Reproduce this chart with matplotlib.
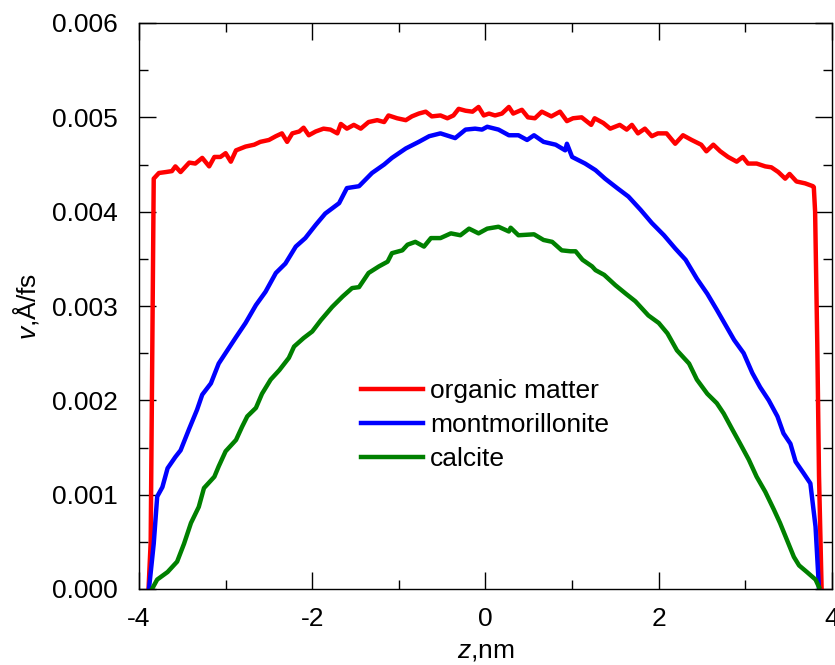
import matplotlib
matplotlib.use('Agg')
import matplotlib.pyplot as plt
from matplotlib.ticker import MultipleLocator, FormatStrFormatter

plt.rcParams['font.family'] = ['Liberation Sans', 'DejaVu Sans']
plt.rcParams['mathtext.fontset'] = 'custom'
plt.rcParams['mathtext.it'] = 'Liberation Sans:italic'
plt.rcParams['mathtext.rm'] = 'Liberation Sans'
plt.rcParams['axes.unicode_minus'] = False

# organic matter (red)
z_org = [-3.89, -3.865, -3.845, -3.83, -3.77, -3.69, -3.62, -3.58, -3.52, -3.42, -3.35, -3.27,
         -3.19, -3.13, -3.06, -3.0, -2.94, -2.88, -2.77, -2.67, -2.60, -2.5, -2.42, -2.35,
         -2.29, -2.23, -2.15, -2.10, -2.04, -1.96, -1.87, -1.79, -1.71, -1.67, -1.60, -1.52,
         -1.44, -1.35, -1.25, -1.17, -1.12, -1.02, -0.92, -0.85, -0.77, -0.69, -0.62, -0.52,
         -0.44, -0.37, -0.31, -0.23, -0.15, -0.08, -0.02, 0.04, 0.11, 0.19, 0.27, 0.32,
         0.42, 0.49, 0.57, 0.65, 0.76, 0.86, 0.94, 1.01, 1.11, 1.22, 1.26, 1.36, 1.44,
         1.55, 1.63, 1.69, 1.76, 1.84, 1.92, 1.99, 2.09, 2.19, 2.28, 2.38, 2.49, 2.55,
         2.63, 2.71, 2.80, 2.90, 2.97, 3.03, 3.13, 3.23, 3.30, 3.38, 3.46, 3.51, 3.59,
         3.69, 3.78, 3.79, 3.805, 3.83, 3.85, 3.88]
v_org = [0.0, 0.0005, 0.0027, 0.00435, 0.00441, 0.00442, 0.00443, 0.00448, 0.00442, 0.00452,
         0.00451, 0.00457, 0.00448, 0.00458, 0.00458, 0.00462, 0.00453, 0.00465, 0.00469,
         0.00471, 0.00474, 0.00476, 0.0048, 0.00483, 0.00474, 0.00483, 0.00485, 0.00489,
         0.00481, 0.00485, 0.00488, 0.00487, 0.00483, 0.00493, 0.00488, 0.00492, 0.00488,
         0.00495, 0.00497, 0.00495, 0.00502, 0.00499, 0.00497, 0.00501, 0.00504, 0.00506,
         0.00501, 0.00502, 0.00499, 0.00502, 0.00509, 0.00507, 0.00506, 0.00511, 0.00502,
         0.00504, 0.00502, 0.00504, 0.00511, 0.00504, 0.00508, 0.005, 0.00499, 0.00506,
         0.00501, 0.00506, 0.00496, 0.00499, 0.005, 0.00492, 0.00499, 0.00494, 0.00488,
         0.00492, 0.00487, 0.00492, 0.00483, 0.00488, 0.0048, 0.00483, 0.00483, 0.00472,
         0.00481, 0.00476, 0.00471, 0.00464, 0.00471, 0.00464, 0.00458, 0.00453, 0.00458,
         0.00451, 0.00451, 0.00448, 0.00447, 0.00442, 0.00435, 0.0044, 0.00432, 0.0043,
         0.00427, 0.00426, 0.004, 0.0026, 0.0012, 0.0]

# montmorillonite (blue)
z_mont = [-3.885, -3.83, -3.79, -3.73, -3.67, -3.58, -3.52, -3.42, -3.33, -3.27, -3.17, -3.08,
          -2.98, -2.88, -2.77, -2.65, -2.54, -2.42, -2.31, -2.19, -2.08, -1.96, -1.85, -1.69,
          -1.60, -1.46, -1.31, -1.17, -1.08, -0.92, -0.77, -0.65, -0.52, -0.35, -0.23, -0.12,
          -0.04, 0.02, 0.15, 0.27, 0.38, 0.48, 0.56, 0.67, 0.81, 0.92, 0.94, 1.0, 1.15, 1.27,
          1.38, 1.52, 1.65, 1.79, 1.92, 2.06, 2.19, 2.31, 2.44, 2.56, 2.67, 2.77, 2.87, 2.98,
          3.08, 3.17, 3.27, 3.37, 3.44, 3.52, 3.58, 3.67, 3.75, 3.81, 3.85]
v_mont = [0.0, 0.00048, 0.00098, 0.00108, 0.00128, 0.0014, 0.00147, 0.0017, 0.0019, 0.00206,
          0.00218, 0.00239, 0.00253, 0.00267, 0.00282, 0.00301, 0.00315, 0.00335, 0.00345,
          0.00363, 0.00372, 0.00386, 0.00398, 0.00409, 0.00425, 0.00427, 0.00441, 0.0045,
          0.00457, 0.00467, 0.00474, 0.0048, 0.00483, 0.00478, 0.00487, 0.00488, 0.00487,
          0.0049, 0.00487, 0.00481, 0.00481, 0.00476, 0.00481, 0.00474, 0.00471, 0.00465,
          0.00472, 0.00458, 0.00451, 0.00444, 0.00435, 0.00425, 0.00416, 0.00402, 0.00388,
          0.00375, 0.00361, 0.00349, 0.00329, 0.00313, 0.00296, 0.0028, 0.00264, 0.0025,
          0.00229, 0.00214, 0.002, 0.00183, 0.00165, 0.00154, 0.00135, 0.00123, 0.00112,
          0.00066, 0.0]

# calcite (green)
z_calc = [-3.85, -3.79, -3.67, -3.56, -3.48, -3.40, -3.31, -3.25, -3.13, -3.08, -3.0, -2.88,
          -2.81, -2.75, -2.65, -2.58, -2.48, -2.38, -2.27, -2.21, -2.10, -2.0, -1.90, -1.77,
          -1.65, -1.54, -1.46, -1.35, -1.23, -1.13, -1.08, -0.96, -0.90, -0.81, -0.71, -0.63,
          -0.52, -0.40, -0.29, -0.19, -0.08, 0.02, 0.15, 0.27, 0.29, 0.38, 0.56, 0.67, 0.77,
          0.88, 0.98, 1.04, 1.12, 1.23, 1.27, 1.37, 1.5, 1.62, 1.73, 1.88, 2.0, 2.1, 2.21,
          2.35, 2.44, 2.56, 2.67, 2.75, 2.85, 2.94, 3.04, 3.13, 3.23, 3.33, 3.40, 3.48, 3.56,
          3.62, 3.71, 3.81, 3.85]
v_calc = [0.0, 0.0001, 0.00018, 0.00029, 0.00048, 0.0007, 0.00087, 0.00107, 0.00119, 0.0013,
          0.00146, 0.00158, 0.00172, 0.00183, 0.00192, 0.00207, 0.00222, 0.00232, 0.00245,
          0.00257, 0.00266, 0.00273, 0.00285, 0.00299, 0.0031, 0.00319, 0.0032, 0.00335,
          0.00342, 0.00347, 0.00356, 0.00359, 0.00365, 0.00368, 0.00363, 0.00372, 0.00372,
          0.00377, 0.00375, 0.00382, 0.00377, 0.00382, 0.00384, 0.00379, 0.00383, 0.00375,
          0.00376, 0.0037, 0.00368, 0.00359, 0.00358, 0.00358, 0.00349, 0.00342, 0.00338,
          0.00333, 0.00322, 0.00313, 0.00305, 0.0029, 0.00282, 0.00271, 0.00253, 0.00239,
          0.00222, 0.00207, 0.00197, 0.00186, 0.00169, 0.00154, 0.00137, 0.00119, 0.00103,
          0.00084, 0.0007, 0.00052, 0.00034, 0.00025, 0.00018, 0.0001, 0.00002]

fig = plt.figure(figsize=(8.35, 6.65), dpi=100)
ax = fig.add_axes([139 / 835, 76 / 665, 693 / 835, 566 / 665])

lw = 3.2
ax.plot(z_org, v_org, color='#ff0000', lw=lw, label='organic matter')
ax.plot(z_mont, v_mont, color='#0000ff', lw=lw, label='montmorillonite')
ax.plot(z_calc, v_calc, color='#008000', lw=lw, label='calcite')

ax.set_xlim(-4, 4)
ax.set_ylim(0, 0.006)
ax.xaxis.set_major_locator(MultipleLocator(2))
ax.xaxis.set_minor_locator(MultipleLocator(1))
ax.yaxis.set_major_locator(MultipleLocator(0.001))
ax.yaxis.set_minor_locator(MultipleLocator(0.0005))
ax.yaxis.set_major_formatter(FormatStrFormatter('%.3f'))
ax.xaxis.set_major_formatter(FormatStrFormatter('%d'))

ax.tick_params(which='both', direction='in', top=True, right=True, width=1.0, labelsize=19)
ax.tick_params(which='major', length=12.2)
ax.tick_params(which='minor', length=6.5)
ax.tick_params(axis='y', pad=15)
ax.tick_params(axis='x', pad=13)
for s in ax.spines.values():
    s.set_linewidth(1.0)

ax.set_xlabel(r'$z$,nm', fontsize=19, labelpad=6)
ax.set_ylabel(r'$v$,Å/fs', fontsize=19, labelpad=8)

ax.legend(loc='center left', bbox_to_anchor=(361 / 835, 1 - 425 / 665),
          bbox_transform=fig.transFigure, frameon=False, fontsize=19,
          handlelength=2.35, handletextpad=0.27, labelspacing=0.37,
          borderpad=0, borderaxespad=0)

fig.savefig('out.png', dpi=100)
